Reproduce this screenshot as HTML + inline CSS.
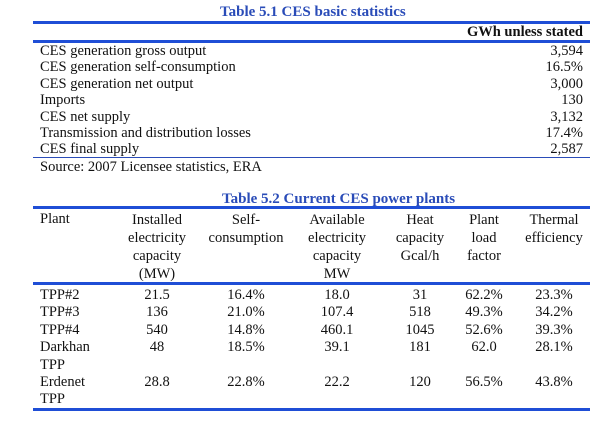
<!DOCTYPE html>
<html><head><meta charset="utf-8"><style>
body{margin:0;width:609px;height:425px;background:#fff;position:relative;overflow:hidden;font-family:"Liberation Serif",serif;color:#111;font-size:14.5px}
div{position:absolute;white-space:nowrap;line-height:16px}
.t{font-weight:bold;color:#2a4cb8;font-size:15px}
.ln{background:#1f4ed6;left:33px;width:557px}
.r{text-align:right}
.c{text-align:center;width:100px}
</style></head><body>
<div class="t" style="left:220px;top:4px">Table 5.1 CES basic statistics</div>
<div class="ln" style="top:21px;height:3px"></div>
<div class="r" style="right:26px;top:24px;font-weight:bold">GWh unless stated</div>
<div class="ln" style="top:40px;height:3px"></div>
<div style="left:40px;top:43px">CES generation gross output</div><div class="r" style="right:26px;top:43px">3,594</div>
<div style="left:40px;top:59px">CES generation self-consumption</div><div class="r" style="right:26px;top:59px">16.5%</div>
<div style="left:40px;top:76px">CES generation net output</div><div class="r" style="right:26px;top:76px">3,000</div>
<div style="left:40px;top:92px">Imports</div><div class="r" style="right:26px;top:92px">130</div>
<div style="left:40px;top:109px">CES net supply</div><div class="r" style="right:26px;top:109px">3,132</div>
<div style="left:40px;top:125px">Transmission and distribution losses</div><div class="r" style="right:26px;top:125px">17.4%</div>
<div style="left:40px;top:141px">CES final supply</div><div class="r" style="right:26px;top:141px">2,587</div>
<div class="ln" style="top:157px;height:1px;background:#2a4cb8"></div>
<div style="left:40px;top:159px">Source: 2007 Licensee statistics, ERA</div>

<div class="t" style="left:222px;top:191px">Table 5.2 Current CES power plants</div>
<div class="ln" style="top:206px;height:3px"></div>
<div style="left:40px;top:211px">Plant</div>
<div class="c" style="left:107px;top:211px;line-height:18px">Installed<br>electricity<br>capacity<br>(MW)</div>
<div class="c" style="left:196px;top:211px;line-height:18px">Self-<br>consumption</div>
<div class="c" style="left:287px;top:211px;line-height:18px">Available<br>electricity<br>capacity<br>MW</div>
<div class="c" style="left:370px;top:211px;line-height:18px">Heat<br>capacity<br>Gcal/h</div>
<div class="c" style="left:434px;top:211px;line-height:18px">Plant<br>load<br>factor</div>
<div class="c" style="left:504px;top:211px;line-height:18px">Thermal<br>efficiency</div>
<div class="ln" style="top:282px;height:3px"></div>
<div style="left:40px;top:287px;line-height:17.4px">TPP#2<br>TPP#3<br>TPP#4<br>Darkhan<br>TPP<br>Erdenet<br>TPP</div>
<div class="c" style="left:107px;top:287px;line-height:17.4px">21.5<br>136<br>540<br>48<br><br>28.8</div>
<div class="c" style="left:196px;top:287px;line-height:17.4px">16.4%<br>21.0%<br>14.8%<br>18.5%<br><br>22.8%</div>
<div class="c" style="left:287px;top:287px;line-height:17.4px">18.0<br>107.4<br>460.1<br>39.1<br><br>22.2</div>
<div class="c" style="left:370px;top:287px;line-height:17.4px">31<br>518<br>1045<br>181<br><br>120</div>
<div class="c" style="left:434px;top:287px;line-height:17.4px">62.2%<br>49.3%<br>52.6%<br>62.0<br><br>56.5%</div>
<div class="c" style="left:504px;top:287px;line-height:17.4px">23.3%<br>34.2%<br>39.3%<br>28.1%<br><br>43.8%</div>
<div class="ln" style="top:408px;height:3px"></div>
</body></html>
